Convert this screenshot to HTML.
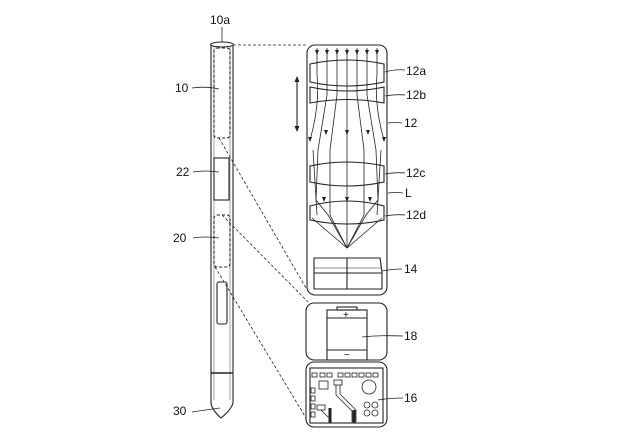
<!DOCTYPE html>
<html><head><meta charset="utf-8"><style>
html,body{margin:0;padding:0;background:#fff;}
svg{display:block;}
text{font-family:"Liberation Sans",sans-serif;font-size:12px;fill:#111;}
</style></head><body>
<svg width="620" height="442" viewBox="0 0 620 442" xmlns="http://www.w3.org/2000/svg">
<g fill="none" stroke="#222" stroke-width="1.1">
<path d="M211,46 L211,403 Q212,410 221,418 Q231,410 233,403 L233,46"/>
<path d="M214,47 L214,400 M230,47 L230,400" stroke-width="0.6" stroke="#666"/>
<ellipse cx="222" cy="44.5" rx="11.5" ry="2.5"/>
<line x1="211" y1="373" x2="233" y2="373" stroke-width="1.4"/>
<rect x="214" y="48" width="16" height="90" rx="3" stroke-dasharray="3,2"/>
<rect x="214" y="158" width="15" height="42"/>
<rect x="214" y="215" width="16" height="52" rx="3" stroke-dasharray="3,2"/>
<rect x="217" y="282" width="10" height="42" rx="2"/>
<g stroke-dasharray="3,2" stroke-width="0.8">
<line x1="233" y1="45" x2="307" y2="45"/>
<line x1="219" y1="138" x2="306" y2="288"/>
<line x1="222" y1="215" x2="308" y2="302"/>
<line x1="215" y1="267" x2="306" y2="418"/>
</g>
<rect x="307" y="45" width="80" height="250" rx="8"/>
<path d="M310,64 Q347,56 384,64 L384,82 Q347,90 310,82 Z"/>
<path d="M310,87 Q347,95 384,87 L384,103 Q347,96 310,103 Z"/>
<path d="M310,166 Q347,158 384,166 L384,182 Q347,190 310,182 Z"/>
<path d="M310,206 Q347,196 384,206 L384,220 Q347,228 310,220 Z"/>
<g stroke-width="0.8">
<path d="M317,48 L317,75 Q320,105 310,140"/>
<path d="M327,48 L327,95 L318,150 L316,200 L328,215 L347,248"/>
<path d="M337,48 L337,95 L330,150 L330,215 L347,248"/>
<path d="M347,48 L347,248"/>
<path d="M357,48 L357,95 L364,150 L364,215 L347,248"/>
<path d="M367,48 L367,95 L376,150 L378,200 L366,215 L347,248"/>
<path d="M377,48 L377,75 Q374,105 384,140"/>
<path d="M312,218 L347,248 L382,218"/>
<path d="M313,150 L317,215 M381,150 L377,215"/>
</g>
<line x1="297" y1="80" x2="297" y2="128"/>
</g>
<g fill="#222">
<path d="M297,76 l-2.5,6 h5z M297,132 l-2.5,-6 h5z"/>
<path d="M317,55 l-2,-5 h4z M327,55 l-2,-5 h4z M337,55 l-2,-5 h4z M347,55 l-2,-5 h4z M357,55 l-2,-5 h4z M367,55 l-2,-5 h4z M377,55 l-2,-5 h4z"/>
<path d="M310,142 l-2,-5 h4z M326,135 l-2,-5 h4z M347,135 l-2,-5 h4z M368,135 l-2,-5 h4z M384,142 l-2,-5 h4z"/>
<path d="M324,202 l-2,-5 h4z M347,202 l-2,-5 h4z M370,202 l-2,-5 h4z"/>
</g>
<g fill="none" stroke="#222" stroke-width="1.1">
<path d="M314,258 L380,258 L382,272 L382,289 L314,289 L314,272 Z"/>
<line x1="314" y1="273" x2="382" y2="273"/>
<line x1="314" y1="268" x2="382" y2="268" stroke-width="0.6"/>
<line x1="347" y1="258" x2="347" y2="289"/>
<rect x="306" y="303" width="81" height="57" rx="8"/>
<rect x="327" y="310" width="40" height="50"/>
<rect x="337" y="307" width="20" height="3"/>
<line x1="327" y1="318" x2="367" y2="318"/>
<line x1="327" y1="350" x2="367" y2="350"/>
<rect x="306" y="362" width="81" height="65" rx="8"/>
<rect x="310" y="368" width="73" height="55"/>
<g stroke-width="0.8">
<rect x="312" y="373" width="5" height="4"/><rect x="320" y="373" width="5" height="4"/><rect x="327" y="373" width="5" height="4"/><rect x="338" y="373" width="5" height="4"/><rect x="345" y="373" width="5" height="4"/><rect x="352" y="373" width="5" height="4"/><rect x="359" y="373" width="5" height="4"/><rect x="366" y="373" width="5" height="4"/><rect x="373" y="373" width="5" height="4"/>
<rect x="319" y="381" width="9" height="8"/><rect x="334" y="380" width="8" height="5"/>
<circle cx="369" cy="387" r="7"/>
<circle cx="367" cy="405" r="3"/><circle cx="375" cy="405" r="3"/><circle cx="367" cy="413" r="3"/><circle cx="375" cy="413" r="3"/>
<rect x="311" y="388" width="4" height="5"/><rect x="311" y="396" width="4" height="5"/><rect x="311" y="404" width="4" height="5"/><rect x="311" y="412" width="4" height="5"/>
<rect x="317" y="405" width="8" height="5"/>
<path d="M336,385 L336,395 L352,411 L352,422 M340,385 L340,394 L356,410 L356,422"/>
<path d="M321,410 L328,417 L330,417"/>
</g>
<line x1="330" y1="408" x2="330" y2="423" stroke-width="3"/>
<line x1="354" y1="410" x2="354" y2="423" stroke-width="3"/>
<g stroke-width="0.8">
<path d="M222,27 V42"/>
<path d="M192,88 Q205,86 219,89"/>
<path d="M193,172 Q205,170 219,172"/>
<path d="M193,238 Q205,236 219,238"/>
<path d="M192,412 Q205,410 220,408"/>
<path d="M385,72 Q395,69 405,70"/>
<path d="M385,96 Q395,94 405,95"/>
<path d="M388,123 Q395,122 402,123"/>
<path d="M385,174 Q395,172 405,173"/>
<path d="M388,193 Q395,192 403,193"/>
<path d="M385,216 Q395,214 405,215"/>
<path d="M382,271 Q392,269 402,269"/>
<path d="M362,337 Q380,335 403,336"/>
<path d="M378,400 Q390,398 403,398"/>
</g>
</g>
<g>
<text x="210" y="24">10a</text>
<text x="175" y="92">10</text>
<text x="176" y="176">22</text>
<text x="173" y="242">20</text>
<text x="173" y="415">30</text>
<text x="406" y="75">12a</text>
<text x="406" y="99">12b</text>
<text x="404" y="127">12</text>
<text x="406" y="177">12c</text>
<text x="405" y="197">L</text>
<text x="406" y="219">12d</text>
<text x="404" y="273">14</text>
<text x="404" y="340">18</text>
<text x="404" y="402">16</text>
<text x="343" y="318" style="font-size:10px">+</text>
<text x="344" y="358" style="font-size:10px">−</text>
</g>
</svg>
</body></html>
